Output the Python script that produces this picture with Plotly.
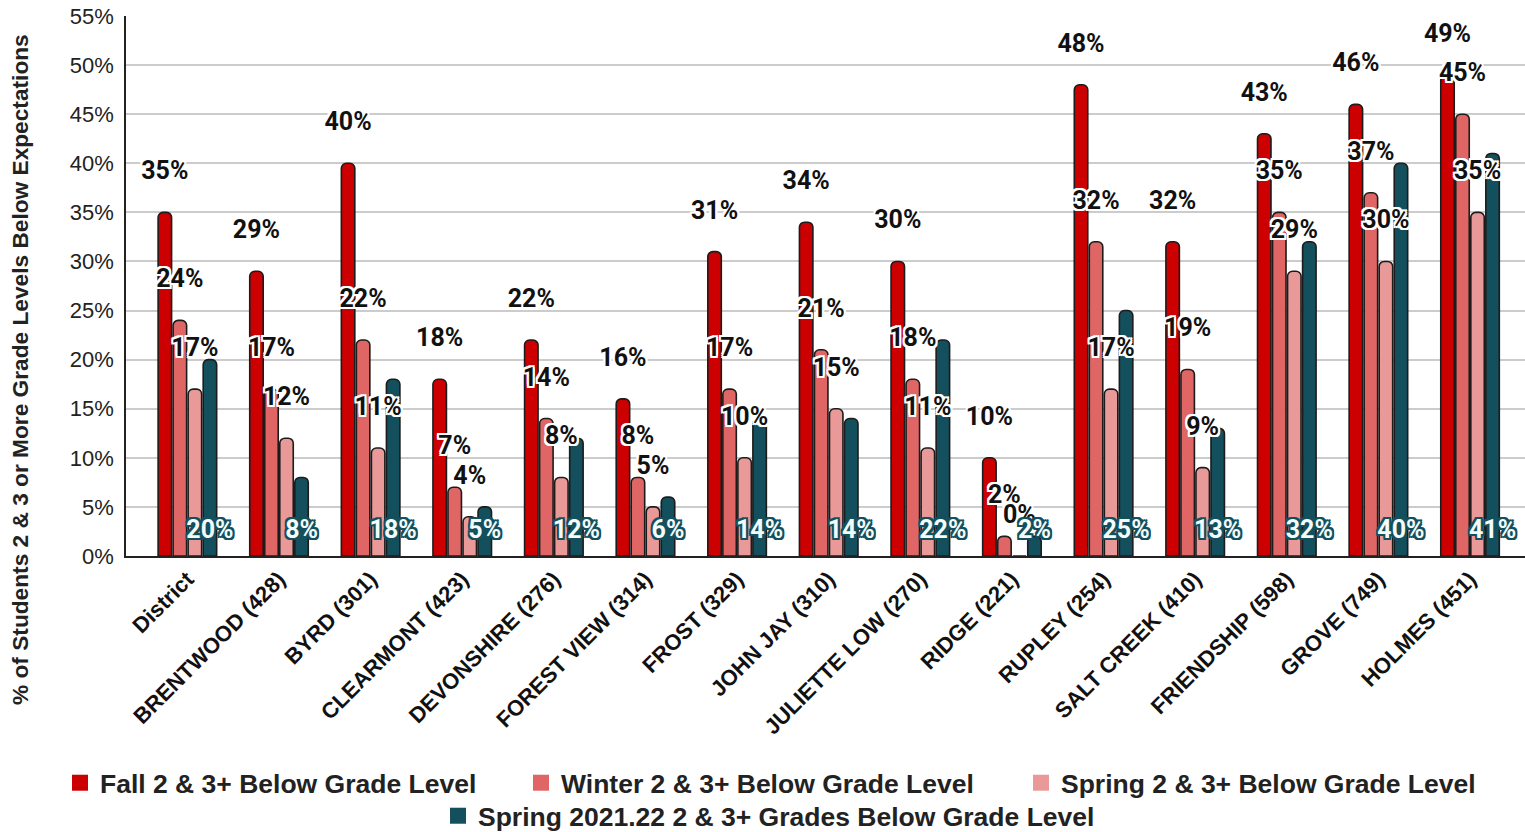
import plotly.graph_objects as go

schools = ["District", "BRENTWOOD (428)", "BYRD (301)", "CLEARMONT (423)", "DEVONSHIRE (276)",
           "FOREST VIEW (314)", "FROST (329)", "JOHN JAY (310)", "JULIETTE LOW (270)", "RIDGE (221)",
           "RUPLEY (254)", "SALT CREEK (410)", "FRIENDSHIP (598)", "GROVE (749)", "HOLMES (451)"]
fall = [35, 29, 40, 18, 22, 16, 31, 34, 30, 10, 48, 32, 43, 46, 49]
winter = [24, 17, 22, 7, 14, 8, 17, 21, 18, 2, 32, 19, 35, 37, 45]
spring = [17, 12, 11, 4, 8, 5, 10, 15, 11, 0, 17, 9, 29, 30, 35]
spring_2122 = [20, 8, 18, 5, 12, 6, 14, 14, 22, 2, 25, 13, 32, 40, 41]
y_ticks = [0, 5, 10, 15, 20, 25, 30, 35, 40, 45, 50, 55]
y_tick_labels = [f"{v}%" for v in y_ticks]

series_names = ["Fall 2 & 3+ Below Grade Level", "Winter 2 & 3+ Below Grade Level",
                "Spring 2 & 3+ Below Grade Level", "Spring 2021.22 2 & 3+ Grades Below Grade Level"]
series_vals = [fall, winter, spring, spring_2122]
colors = ["#cc0000", "#e06666", "#ea9999", "#134f5c"]
slot = [-0.246, -0.082, 0.082, 0.246]
bar_w = 0.147
label_lift = 4
bottom_label_y = 2.5

# legend placement (container px): left of legend box, vertical centre
W, H = 1525, 832
legend_pos = [(60, 783), (521, 783), (1021, 783), (438, 816)]

xs = list(range(len(schools)))


def halo(c, r=2):
    parts = []
    for dx in (-r, 0, r):
        for dy in (-r, 0, r):
            if dx or dy:
                parts.append(f"{dx}px {dy}px 0 {c}")
    parts.append(f"1px 1px 0 {c}")
    parts.append(f"-1px -1px 0 {c}")
    return ", ".join(parts)


legend_ids = ["legend", "legend2", "legend3", "legend4"]

fig = go.Figure()
for k in range(4):
    fig.add_trace(go.Bar(
        x=xs, y=series_vals[k], name=series_names[k],
        offset=slot[k] - bar_w / 2, width=bar_w,
        marker=dict(color=colors[k], line=dict(color="#1c1c1c", width=1.6), cornerradius=5),
        legend=legend_ids[k], legendgroup=series_names[k], showlegend=False,
        hoverinfo="skip",
    ))
    # legend swatch (larger square like the reference)
    fig.add_trace(go.Scatter(
        x=[None], y=[None], mode="markers", name=series_names[k],
        marker=dict(symbol="square", size=20, color=colors[k], line=dict(width=0)),
        legend=legend_ids[k], legendgroup=series_names[k], showlegend=True,
        hoverinfo="skip",
    ))

for k in range(4):
    if k < 3:
        ty = [v + label_lift for v in series_vals[k]]
        tf = dict(family="Roboto", size=25, color="#111111", weight="bold", shadow=halo("#ffffff"))
    else:
        ty = [bottom_label_y for _ in series_vals[k]]
        tf = dict(family="Roboto", size=25, color="#f4fbfb", weight="bold", shadow=halo("#134f5c"))
    fig.add_trace(go.Scatter(
        x=[x + slot[k] for x in xs], y=ty, mode="text",
        text=[f"{v}%" for v in series_vals[k]], textposition="middle center",
        textfont=tf, showlegend=False, hoverinfo="skip", cliponaxis=False,
    ))

legend_font = dict(family="Liberation Sans", size=26.5, color="#222222", weight="bold")
legends = {}
for k, lid in enumerate(legend_ids):
    lx, ly = legend_pos[k]
    legends[lid] = dict(orientation="h", xref="container", yref="container",
                        x=lx / W, y=1 - ly / H, xanchor="left", yanchor="middle",
                        font=legend_font, bgcolor="rgba(0,0,0,0)", itemsizing="trace")

fig.update_layout(
    width=W, height=H,
    margin=dict(l=126, r=0, t=16, b=276),
    plot_bgcolor="white", paper_bgcolor="white",
    barmode="overlay",
    font=dict(family="Liberation Sans", color="#222222"),
    xaxis=dict(
        range=[-0.67, 14.6], tickmode="array", tickvals=xs, ticktext=schools,
        tickangle=-45, tickfont=dict(family="Liberation Sans", size=22, color="#111111", weight="bold"),
        showgrid=False, showline=True, linecolor="#222222", linewidth=1.5, ticks="",
        zeroline=False, automargin=False,
    ),
    yaxis=dict(
        range=[0, 55], tickmode="array", tickvals=y_ticks, ticktext=y_tick_labels,
        tickfont=dict(family="Liberation Sans", size=22, color="#222222"),
        showgrid=True, gridcolor="#cccccc", gridwidth=1.5,
        showline=True, linecolor="#222222", linewidth=1.5, zeroline=False,
        ticks="", ticklabelstandoff=6, automargin=False,
    ),
    annotations=[dict(
        text="% of Students 2 & 3 or More Grade Levels Below Expectations",
        xref="paper", yref="paper", x=(20 - 126) / (W - 126), y=(556 - 370) / 540,
        xanchor="center", yanchor="middle", textangle=-90, showarrow=False,
        font=dict(family="Liberation Sans", size=22.7, color="#222222", weight="bold"),
    )],
    showlegend=True,
    **legends,
)

fig.write_html("out.html", config={"displayModeBar": False},
               post_script="document.body.style.margin='0';document.body.style.overflow='hidden';")
